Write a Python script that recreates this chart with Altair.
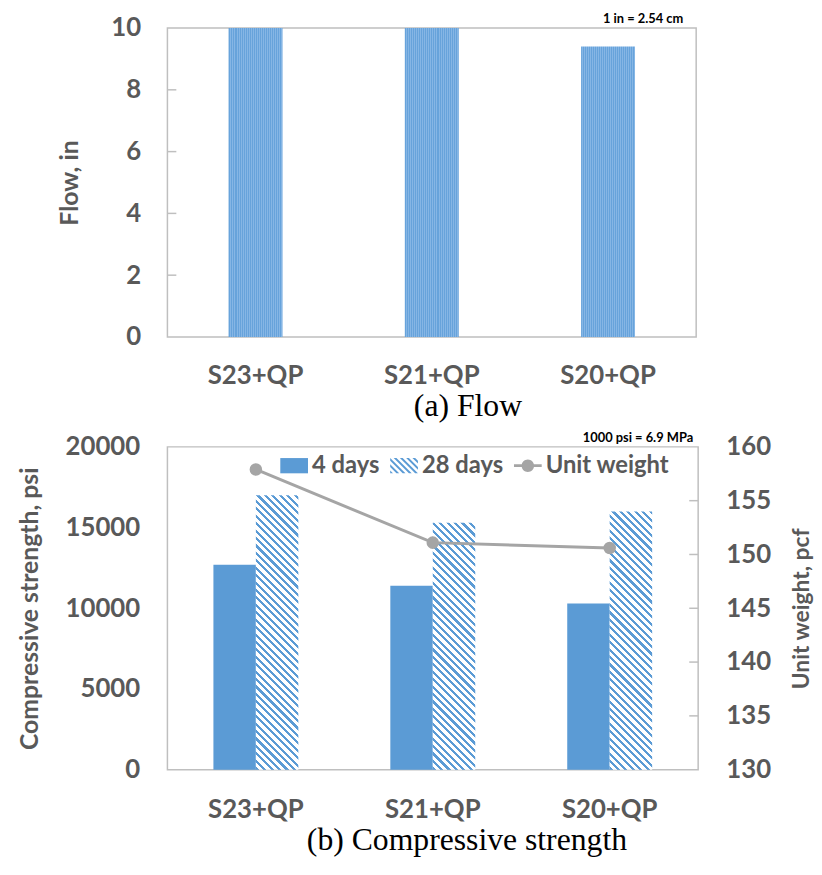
import altair as alt
import pandas as pd

# ---------------- data ----------------
categories = ["S23+QP", "S21+QP", "S20+QP"]
flow_in = [10.0, 10.0, 9.4]
strength_4d = [12700, 11400, 10300]
strength_28d = [17000, 15300, 16000]
unit_weight = [157.9, 151.1, 150.6]
series_names = ["4 days", "28 days", "Unit weight"]
bar_series = ["4 days", "28 days"]
flow_ticks = [0, 2, 4, 6, 8, 10]
flow_minor = [2, 4, 6, 8]
strength_ticks = [0, 5000, 10000, 15000, 20000]
weight_ticks = [130, 135, 140, 145, 150, 155, 160]
weight_minor = [135, 140, 145, 150, 155]

# ---------------- style ----------------
BLUE = "#5B9BD5"
TEX_A = "#67A3DB"
TEX_B = "#86B6E5"
TXT = "#595959"
LINE = "#A5A5A5"
FRAME = "#BFBFBF"
FONT = "Lato"
SERIF = "Liberation Serif"

TOP_W, TOP_H = 534, 312
BOT_W, BOT_H = 536, 326
TOP_PAD_IN = 0.694
BOT_PAD_IN = 0.52


def rnd(v):
    return round(v, 5)


def stripes(length_px, period_px, duty, c_on, c_off):
    stops = []
    u = 0.0
    while u < length_px - 1e-9:
        a = u / length_px
        b = min(u + duty * period_px, length_px) / length_px
        c = min(u + period_px, length_px) / length_px
        stops += [
            {"offset": rnd(a), "color": c_on},
            {"offset": rnd(b), "color": c_on},
            {"offset": rnd(b), "color": c_off},
            {"offset": rnd(c), "color": c_off},
        ]
        u += period_px
    return stops


def hatch_gradient(w, h, period=7.5, duty=0.42):
    L = w + h
    k = L / (w * w + h * h)
    return {
        "gradient": "linear",
        "x1": 0, "y1": 1,
        "x2": rnd(k * w), "y2": rnd(1 - k * h),
        "stops": stripes(L, period, duty, BLUE, "#FFFFFF"),
    }


# legend symbol paths (unit square [-1,1], y down)
def clip(poly, f):
    out = []
    n = len(poly)
    for i in range(n):
        p, q = poly[i], poly[(i + 1) % n]
        fp, fq = f(p), f(q)
        if fp >= 0:
            out.append(p)
        if (fp >= 0) != (fq >= 0):
            t = fp / (fp - fq)
            out.append((p[0] + t * (q[0] - p[0]), p[1] + t * (q[1] - p[1])))
    return out


RH = 0.55
rect_poly = [(-1, -RH), (1, -RH), (1, RH), (-1, RH)]
p_rect = "M-1,-0.55L1,-0.55L1,0.55L-1,0.55Z"
hatch_parts = []
per, wid = 0.45, 0.2
c = -1 - RH
while c < 1 + RH:
    poly = clip(rect_poly, lambda p, c=c: (p[0] - p[1]) - c)
    poly = clip(poly, lambda p, c=c: (c + wid) - (p[0] - p[1]))
    if len(poly) >= 3:
        hatch_parts.append("M" + "L".join(f"{x:.3f},{y:.3f}" for x, y in poly) + "Z")
    c += per
p_hatch = "".join(hatch_parts)
p_line = ("M-1,-0.1L1,-0.1L1,0.1L-1,0.1Z"
          "M-0.45,0A0.45,0.45 0 1,1 0.45,0A0.45,0.45 0 1,1 -0.45,0Z")

# ---------------- top chart: flow ----------------
df_flow = pd.DataFrame({"category": categories, "flow": flow_in})
top_bar_w = TOP_W / 3 * (1 - TOP_PAD_IN)
top_grad = {"gradient": "linear", "x1": 0, "y1": 0, "x2": 1, "y2": 0,
            "stops": stripes(top_bar_w, 2.0, 0.5, TEX_A, TEX_B)}

flow_scale = alt.Scale(domain=[0, 10], nice=False)
flow_axis = alt.Axis(values=flow_ticks, title="Flow, in", labelPadding=27,
                     titlePadding=29, format="d")
bars_top = alt.Chart(df_flow).mark_bar(fill=top_grad).encode(
    x=alt.X("category:N", sort=categories,
            scale=alt.Scale(domain=categories, paddingInner=TOP_PAD_IN, paddingOuter=TOP_PAD_IN / 2),
            axis=alt.Axis(title="(a) Flow", labelAngle=0, labelPadding=26,
                          titleFont=SERIF, titleFontSize=32, titleFontWeight="normal",
                          titleColor="black", titlePadding=2, titleX=303, titleAlign="center")),
    y=alt.Y("flow:Q", scale=flow_scale, axis=flow_axis),
)
ticks_top = alt.Chart(pd.DataFrame({"flow": flow_minor})).mark_rule(color=FRAME, strokeWidth=1.5).encode(
    x=alt.value(0), x2=alt.value(9),
    y=alt.Y("flow:Q", scale=flow_scale, axis=flow_axis),
)
top = alt.layer(bars_top, ticks_top).properties(
    width=TOP_W, height=TOP_H,
    title=alt.TitleParams("1 in = 2.54 cm", anchor="end", frame="group", font=FONT,
                          fontSize=13, fontWeight="bold", color="black", offset=-11, dx=-13),
)

# ---------------- bottom chart: strength ----------------
rows = []
for cat, a, b in zip(categories, strength_4d, strength_28d):
    rows.append({"category": cat, "series": "4 days", "value": a})
    rows.append({"category": cat, "series": "28 days", "value": b})
df_s = pd.DataFrame(rows)

x_scale_b = alt.Scale(domain=categories, paddingInner=BOT_PAD_IN, paddingOuter=BOT_PAD_IN / 2)
x_axis_b = alt.Axis(title="(b) Compressive strength", labelAngle=0, labelPadding=27,
                    titleFont=SERIF, titleFontSize=32, titleFontWeight="normal",
                    titleColor="black", titlePadding=3, titleX=302, titleAlign="center")
x_bot = alt.X("category:N", sort=categories, scale=x_scale_b, axis=x_axis_b)
xoff = alt.XOffset("series:N", scale=alt.Scale(domain=bar_series))
s_scale = alt.Scale(domain=[0, 20000], nice=False)
s_axis = alt.Axis(values=strength_ticks, title="Compressive strength, psi",
                  labelPadding=28, titlePadding=23, format="d")

bars4 = alt.Chart(df_s).transform_filter(alt.datum.series == "4 days").mark_bar(color=BLUE).encode(
    x=x_bot, xOffset=xoff,
    y=alt.Y("value:Q", scale=s_scale, axis=s_axis),
)
bar_w_b = BOT_W / 3 * (1 - BOT_PAD_IN) / 2
hatched = []
for cat, v in zip(categories, strength_28d):
    h = v / 20000 * BOT_H
    hatched.append(
        alt.Chart(df_s)
        .transform_filter((alt.datum.series == "28 days") & (alt.datum.category == cat))
        .mark_bar(fill=hatch_gradient(bar_w_b, h))
        .encode(x=x_bot, xOffset=xoff, y=alt.Y("value:Q", scale=s_scale, axis=s_axis))
    )
bars_group = alt.layer(bars4, *hatched)

df_w = pd.DataFrame({"category": categories, "weight": unit_weight})
w_scale = alt.Scale(domain=[130, 160], nice=False, zero=False)
w_axis = alt.Axis(orient="right", values=weight_ticks, title="Unit weight, pcf",
                  titleAngle=270, titleBaseline="top", labelPadding=28,
                  titlePadding=20, titleFontSize=23, format="d")
line = alt.Chart(df_w).mark_line(
    color=LINE, strokeWidth=3,
    point=alt.OverlayMarkDef(filled=True, size=160, color=LINE),
).encode(
    x=x_bot,
    y=alt.Y("weight:Q", scale=w_scale, axis=w_axis),
)
ticks_right = alt.Chart(pd.DataFrame({"weight": weight_minor})).mark_rule(color=FRAME, strokeWidth=1.5).encode(
    x=alt.value(BOT_W - 9), x2=alt.value(BOT_W),
    y=alt.Y("weight:Q", scale=w_scale, axis=w_axis),
)
line_group = alt.layer(line, ticks_right)

LEG = dict(title=None, orient="none", legendX=114, legendY=5, direction="horizontal",
           symbolSize=784, symbolStrokeWidth=0, symbolOpacity=1,
           labelFont=FONT, labelFontSize=24, labelFontWeight="bold", labelColor=TXT,
           labelOffset=4, columnPadding=10, padding=0)
legend_layer = alt.Chart(pd.DataFrame({"series": series_names})).mark_point(
    filled=True, opacity=0
).encode(
    color=alt.Color("series:N", sort=series_names,
                    scale=alt.Scale(domain=series_names, range=[BLUE, BLUE, LINE]),
                    legend=alt.Legend(**LEG)),
    shape=alt.Shape("series:N", sort=series_names,
                    scale=alt.Scale(domain=series_names, range=[p_rect, p_hatch, p_line]),
                    legend=alt.Legend(**LEG)),
)

bottom = alt.layer(bars_group, line_group, legend_layer).resolve_scale(y="independent").properties(
    width=BOT_W, height=BOT_H,
    title=alt.TitleParams("1000 psi = 6.9 MPa", anchor="end", frame="group", font=FONT,
                          fontSize=13, fontWeight="bold", color="black", offset=-11, dx=-5),
)

chart = alt.vconcat(top, bottom, spacing=9).resolve_scale(
    color="independent", shape="independent"
).resolve_legend(
    color="independent", shape="independent"
).properties(
    padding={"left": 8, "top": 0, "right": 0, "bottom": 0}
).configure_view(
    stroke=FRAME, strokeWidth=1.5
).configure_axis(
    labelFont=FONT, labelFontSize=26, labelFontWeight="bold", labelColor=TXT,
    titleFont=FONT, titleFontSize=25, titleFontWeight="bold", titleColor=TXT,
    ticks=False, domain=False, grid=False,
)

chart.save("out.html", embed_options={"renderer": "svg", "actions": False})
